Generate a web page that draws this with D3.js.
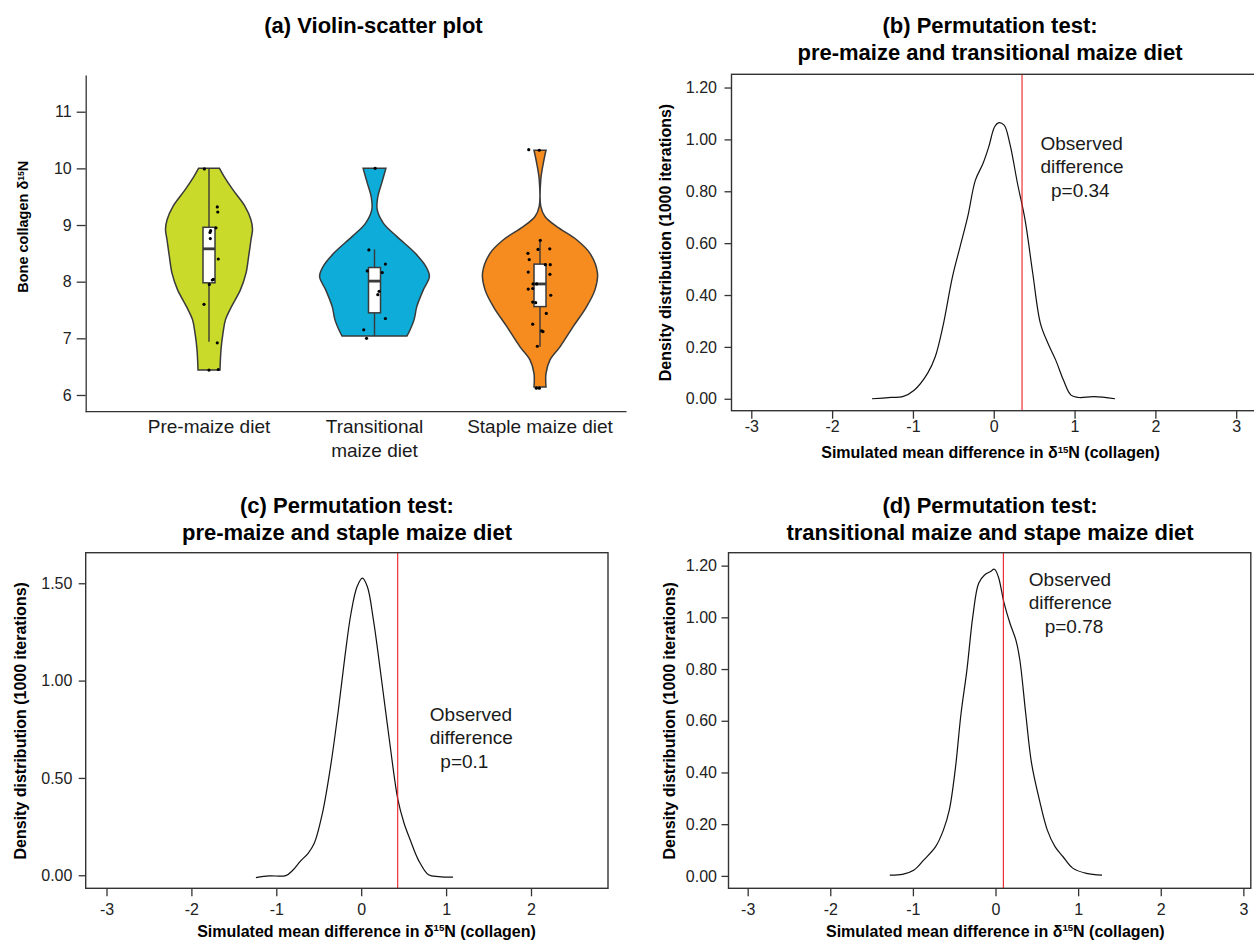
<!DOCTYPE html>
<html>
<head>
<meta charset="utf-8">
<script src="https://cdn.jsdelivr.net/npm/d3@7"></script>
<style>
  body { margin: 0; background: #fff; }
  text { font-family: "Liberation Sans", Arial, sans-serif; }
</style>
</head>
<body>
<div id="chart"></div>
<script>
// ---------- data: panel (a) ----------
const groups = ["Pre-maize diet", "Transitional maize diet", "Staple maize diet"];
const groupLabels = [["Pre-maize diet"], ["Transitional", "maize diet"], ["Staple maize diet"]];
const groupColors = ["#c9da2b", "#0eacd8", "#f68b1f"];
const yTicksA = [6, 7, 8, 9, 10, 11];

// violin outline: [δ15N, relative density]
const violinPre = [[10.0,0.175],[9.86,0.25],[9.62,0.40],[9.33,0.60],[9.09,0.70],[8.92,0.725],[8.74,0.70],
  [8.44,0.66],[8.15,0.617],[7.86,0.525],[7.56,0.375],[7.33,0.275],[7.09,0.233],[6.8,0.20],[6.44,0.183]];
const violinTrans = [[10.0,0.19],[9.74,0.12],[9.5,0.055],[9.27,0.045],[9.03,0.15],[8.8,0.37],[8.5,0.68],
  [8.27,0.855],[8.09,0.915],[7.86,0.815],[7.56,0.705],[7.33,0.66],[7.12,0.58],[7.04,0.54]];
const violinStaple = [[10.32,0.10],[10.09,0.055],[9.8,0.013],[9.33,0.013],[9.15,0.083],[8.97,0.28],[8.74,0.61],
  [8.5,0.833],[8.15,0.958],[7.86,0.917],[7.56,0.778],[7.21,0.555],[6.85,0.333],[6.62,0.167],[6.38,0.10],[6.14,0.10]];

// box stats: [low whisker, q1, median, q3, high whisker]
const boxPre = [6.94, 7.98, 8.58, 8.96, 10.0];
const boxTrans = [7.04, 7.45, 8.01, 8.25, 8.57];
const boxStaple = [6.85, 7.56, 7.96, 8.31, 8.73];

// jittered points: [δ15N, jitter (fraction of category step)]
const ptsPre = [[9.99,-0.028],[9.32,0.05],[9.23,0.053],[8.95,0.042],[8.9,0.01],[8.87,0.006],[8.76,0.008],
  [8.40,0.056],[8.04,0.026],[8.03,0.02],[7.95,0.002],[7.60,-0.03],[6.92,0.05],[6.44,0],[6.45,0.056]];
const ptsTrans = [[10.0,0.004],[8.56,-0.034],[8.31,0.066],[8.19,-0.044],[8.16,0.047],[7.83,0.028],[7.77,0.02],
  [7.35,0.066],[7.15,-0.065],[7.0,-0.048]];
const ptsStaple = [[10.33,-0.068],[10.32,-0.004],[8.73,0.002],[8.57,-0.012],[8.58,0.059],[8.50,-0.073],[8.39,-0.065],
  [8.30,0.032],[8.30,0.062],[8.17,-0.071],[8.13,0.06],[7.96,-0.042],[7.96,-0.02],[7.87,-0.071],[7.88,-0.044],
  [7.76,0.065],[7.64,-0.044],[7.63,-0.026],[7.44,0.038],[7.25,-0.044],[7.13,0.01],[7.12,0.018],[6.86,-0.016],
  [6.12,-0.022],[6.12,-0.004]];

// ---------- data: permutation panels ----------
const xTicksPerm = [-3, -2, -1, 0, 1, 2, 3];
const yTicksB = [0, 0.2, 0.4, 0.6, 0.8, 1.0, 1.2];
const yTicksC = [0, 0.5, 1.0, 1.5];
const yTicksD = [0, 0.2, 0.4, 0.6, 0.8, 1.0, 1.2];

// simulated mean difference vs density
const densB = [[-1.506,0.0],[-1.269,0.005],[-1.127,0.008],[-0.985,0.033],[-0.819,0.098],[-0.724,0.162],
  [-0.630,0.278],[-0.511,0.470],[-0.417,0.586],[-0.322,0.702],[-0.227,0.843],[-0.133,0.907],[-0.062,0.971],
  [0.009,1.048],[0.057,1.064],[0.128,1.055],[0.199,0.984],[0.294,0.830],[0.388,0.689],[0.483,0.483],
  [0.578,0.290],[0.672,0.213],[0.767,0.149],[0.862,0.072],[0.956,0.014],[1.051,0.005],[1.241,0.008],[1.501,0.0]];
const densC = [[-1.240,-0.012],[-1.082,-0.003],[-0.889,-0.002],[-0.803,0.027],[-0.721,0.070],[-0.625,0.113],
  [-0.553,0.164],[-0.457,0.318],[-0.361,0.558],[-0.264,0.866],[-0.192,1.123],[-0.120,1.346],[-0.048,1.483],
  [0.014,1.526],[0.072,1.483],[0.144,1.312],[0.240,1.003],[0.337,0.678],[0.433,0.387],[0.505,0.267],
  [0.577,0.182],[0.673,0.079],[0.793,0.002],[0.913,-0.007],[1.082,-0.010]];
const densD = [[-1.280,0.003],[-1.128,0.006],[-0.986,0.023],[-0.867,0.062],[-0.725,0.113],[-0.630,0.178],
  [-0.559,0.255],[-0.488,0.410],[-0.417,0.629],[-0.346,0.797],[-0.275,1.003],[-0.204,1.132],[-0.133,1.164],
  [-0.062,1.177],[-0.014,1.186],[0.033,1.158],[0.104,1.055],[0.175,0.977],[0.246,0.913],[0.294,0.836],
  [0.365,0.630],[0.436,0.436],[0.531,0.294],[0.626,0.178],[0.720,0.113],[0.815,0.075],[0.934,0.030],
  [1.100,0.010],[1.289,0.003]];

const obsB = 0.35, obsC = 0.43, obsD = 0.095;
const pB = "p=0.34", pC = "p=0.1", pD = "p=0.78";
const titleA = "(a) Violin-scatter plot";
const titleB = ["(b) Permutation test:", "pre-maize and transitional maize diet"];
const titleC = ["(c) Permutation test:", "pre-maize and staple maize diet"];
const titleD = ["(d) Permutation test:", "transitional maize and stape maize diet"];

// ---------- drawing ----------
const svg = d3.select("#chart").append("svg")
    .attr("width", 1254)
    .attr("height", 942);

const ink = "#333";

// text with a superscript 15 after δ
function deltaText(sel, before, after, size) {
  sel.append("tspan").text(before + "δ");
  sel.append("tspan").text("15").attr("font-size", size * 0.6).attr("dy", -size * 0.33);
  sel.append("tspan").text(after).attr("dy", size * 0.33);
}

// ===== panel (a) =====
const violins = [violinPre, violinTrans, violinStaple];
const boxes = [boxPre, boxTrans, boxStaple];
const points = [ptsPre, ptsTrans, ptsStaple];

const yA = d3.scaleLinear().domain([5.705, 11.648]).range([411.7, 75]);
const xA = d3.scalePoint().domain(groups).range([209, 540]);
const wA = d3.scaleLinear().domain([0, 1]).range([0, 60]);
const boxHalf = 6;

const gA = svg.append("g");

gA.append("text")
  .attr("x", 373.5)
  .attr("y", 33)
  .attr("text-anchor", "middle")
  .attr("font-size", 22)
  .attr("font-weight", "bold")
  .text(titleA);

groups.forEach((grp, i) => {
  const cx = xA(grp);
  const area = d3.area()
    .curve(d3.curveCatmullRom)
    .y(d => yA(d[0]))
    .x0(d => cx - wA(d[1]))
    .x1(d => cx + wA(d[1]));

  gA.append("path")
    .datum(violins[i])
    .attr("d", area)
    .attr("fill", groupColors[i])
    .attr("stroke", "#3a3a3a")
    .attr("stroke-width", 1.5);

  const [lo, q1, med, q3, hi] = boxes[i];
  // whiskers
  gA.append("line").attr("x1", cx).attr("x2", cx).attr("y1", yA(hi)).attr("y2", yA(q3))
    .attr("stroke", "#3a3a3a").attr("stroke-width", 1.4);
  gA.append("line").attr("x1", cx).attr("x2", cx).attr("y1", yA(q1)).attr("y2", yA(lo))
    .attr("stroke", "#3a3a3a").attr("stroke-width", 1.4);
  // box
  gA.append("rect")
    .attr("x", cx - boxHalf)
    .attr("y", yA(q3))
    .attr("width", boxHalf * 2)
    .attr("height", yA(q1) - yA(q3))
    .attr("fill", "#fff")
    .attr("stroke", "#3a3a3a")
    .attr("stroke-width", 1.5);
  gA.append("line").attr("x1", cx - boxHalf).attr("x2", cx + boxHalf).attr("y1", yA(med)).attr("y2", yA(med))
    .attr("stroke", "#3a3a3a").attr("stroke-width", 2.8);

  // points
  gA.append("g")
    .selectAll("circle")
    .data(points[i])
    .join("circle")
      .attr("cx", d => cx + d[1] * xA.step())
      .attr("cy", d => yA(d[0]))
      .attr("r", 1.6)
      .attr("fill", "#000");

  // category label
  groupLabels[i].forEach((ln, k) => {
    gA.append("text")
      .attr("x", cx)
      .attr("y", 433.3 + k * 24)
      .attr("text-anchor", "middle")
      .attr("font-size", 19)
      .attr("fill", "#1a1a1a")
      .text(ln);
  });
});

// axes (a)
gA.append("g")
  .attr("transform", "translate(85.7,0)")
  .call(d3.axisLeft(yA).tickValues(yTicksA).tickFormat(d3.format("d")).tickSize(9).tickPadding(5).tickSizeOuter(0))
  .attr("font-size", 16)
  .attr("font-family", "'Liberation Sans', Arial, sans-serif")
  .call(g => g.selectAll("line,path").attr("stroke", ink).attr("stroke-width", 1.3))
  .call(g => g.selectAll("text").attr("fill", "#222"));

gA.append("line")
  .attr("x1", 85.7).attr("x2", 626.5)
  .attr("y1", 411.7).attr("y2", 411.7)
  .attr("stroke", ink).attr("stroke-width", 1.3);

gA.append("text")
  .attr("transform", "translate(23.3,226.7) rotate(-90)")
  .attr("text-anchor", "middle")
  .attr("dy", "0.35em")
  .attr("font-size", 14.5)
  .attr("font-weight", "bold")
  .call(t => deltaText(t, "Bone collagen ", "N", 14.5));

// ===== permutation panels =====
const panels = [
  {box: {left: 731.5, right: 1256, top: 74.3, bottom: 410.7}, xDomain: [-3.245, 3.245], yDomain: [-0.046, 1.251],
   yTicks: yTicksB, dens: densB, obs: obsB, p: pB, title: titleB, titleX: 990, titleY: 33,
   yTitle: [665.3, 242.5], xTitle: [990.6, 458.3], yPad: 7.5, xPad: 1.6, note: {x: 0.578, y: 0.961, sp: 2}},
  {box: {left: 85.7, right: 608, top: 552.7, bottom: 888.3}, xDomain: [-3.245, 2.907], yDomain: [-0.067, 1.657],
   yTicks: yTicksC, dens: densC, obs: obsC, p: pC, title: titleC, titleX: 347, titleY: 513,
   yTitle: [20.4, 720.8], xTitle: [366.5, 936.7], yPad: 6.3, xPad: 7.3, note: {x: 0.808, y: 0.794, sp: 2}},
  {box: {left: 728.5, right: 1250.8, top: 552.7, bottom: 888.3}, xDomain: [-3.232, 3.09], yDomain: [-0.048, 1.25],
   yTicks: yTicksD, dens: densD, obs: obsD, p: pD, title: titleD, titleX: 990, titleY: 513,
   yTitle: [669.4, 720.8], xTitle: [995.3, 936.7], yPad: 4.5, xPad: 7.3, note: {x: 0.403, y: 1.122, sp: 3}}
];

panels.forEach(p => {
  const x = d3.scaleLinear().domain(p.xDomain).range([p.box.left, p.box.right]);
  const y = d3.scaleLinear().domain(p.yDomain).range([p.box.bottom, p.box.top]);
  const g = svg.append("g");

  // title
  p.title.forEach((ln, k) => {
    g.append("text")
      .attr("x", p.titleX)
      .attr("y", p.titleY + k * 27)
      .attr("text-anchor", "middle")
      .attr("font-size", 22)
      .attr("font-weight", "bold")
      .text(ln);
  });

  // density curve
  const line = d3.line()
    .curve(d3.curveCatmullRom)
    .x(d => x(d[0]))
    .y(d => y(d[1]));
  g.append("path")
    .datum(p.dens)
    .attr("d", line)
    .attr("fill", "none")
    .attr("stroke", "#111")
    .attr("stroke-width", 1.2);

  // observed difference
  g.append("line")
    .attr("x1", x(p.obs)).attr("x2", x(p.obs))
    .attr("y1", p.box.top).attr("y2", p.box.bottom)
    .attr("stroke", "#ee1c25")
    .attr("stroke-width", 1.1);

  const noteLines = ["Observed", "difference", "\u00a0".repeat(p.note.sp) + p.p];
  noteLines.forEach((ln, k) => {
    g.append("text")
      .attr("x", x(p.note.x))
      .attr("y", y(p.note.y) + k * 23.5)
      .attr("font-size", 19)
      .attr("fill", "#1a1a1a")
      .text(ln);
  });

  // frame
  g.append("rect")
    .attr("x", p.box.left)
    .attr("y", p.box.top)
    .attr("width", p.box.right - p.box.left)
    .attr("height", p.box.bottom - p.box.top)
    .attr("fill", "none")
    .attr("stroke", ink)
    .attr("stroke-width", 1.4);

  // axes
  g.append("g")
    .attr("transform", `translate(${p.box.left},0)`)
    .call(d3.axisLeft(y).tickValues(p.yTicks).tickFormat(d3.format(".2f")).tickSize(7).tickPadding(p.yPad))
    .attr("font-size", 16)
    .attr("font-family", "'Liberation Sans', Arial, sans-serif")
    .call(a => a.select(".domain").remove())
    .call(a => a.selectAll("line").attr("stroke", ink).attr("stroke-width", 1.3))
    .call(a => a.selectAll("text").attr("fill", "#222"));

  g.append("g")
    .attr("transform", `translate(0,${p.box.bottom})`)
    .call(d3.axisBottom(x)
      .tickValues(xTicksPerm.filter(v => v >= p.xDomain[0] && v <= p.xDomain[1]))
      .tickFormat(d => String(d))
      .tickSize(8).tickPadding(p.xPad))
    .attr("font-size", 16)
    .attr("font-family", "'Liberation Sans', Arial, sans-serif")
    .call(a => a.select(".domain").remove())
    .call(a => a.selectAll("line").attr("stroke", ink).attr("stroke-width", 1.3))
    .call(a => a.selectAll("text").attr("fill", "#222"));

  // axis titles
  g.append("text")
    .attr("x", p.xTitle[0])
    .attr("y", p.xTitle[1])
    .attr("text-anchor", "middle")
    .attr("font-size", 16)
    .attr("font-weight", "bold")
    .call(t => deltaText(t, "Simulated mean difference in ", "N (collagen)", 16));

  g.append("text")
    .attr("transform", `translate(${p.yTitle[0]},${p.yTitle[1]}) rotate(-90)`)
    .attr("text-anchor", "middle")
    .attr("dy", "0.35em")
    .attr("font-size", 16)
    .attr("font-weight", "bold")
    .text("Density distribution (1000 iterations)");
});
</script>
</body>
</html>
